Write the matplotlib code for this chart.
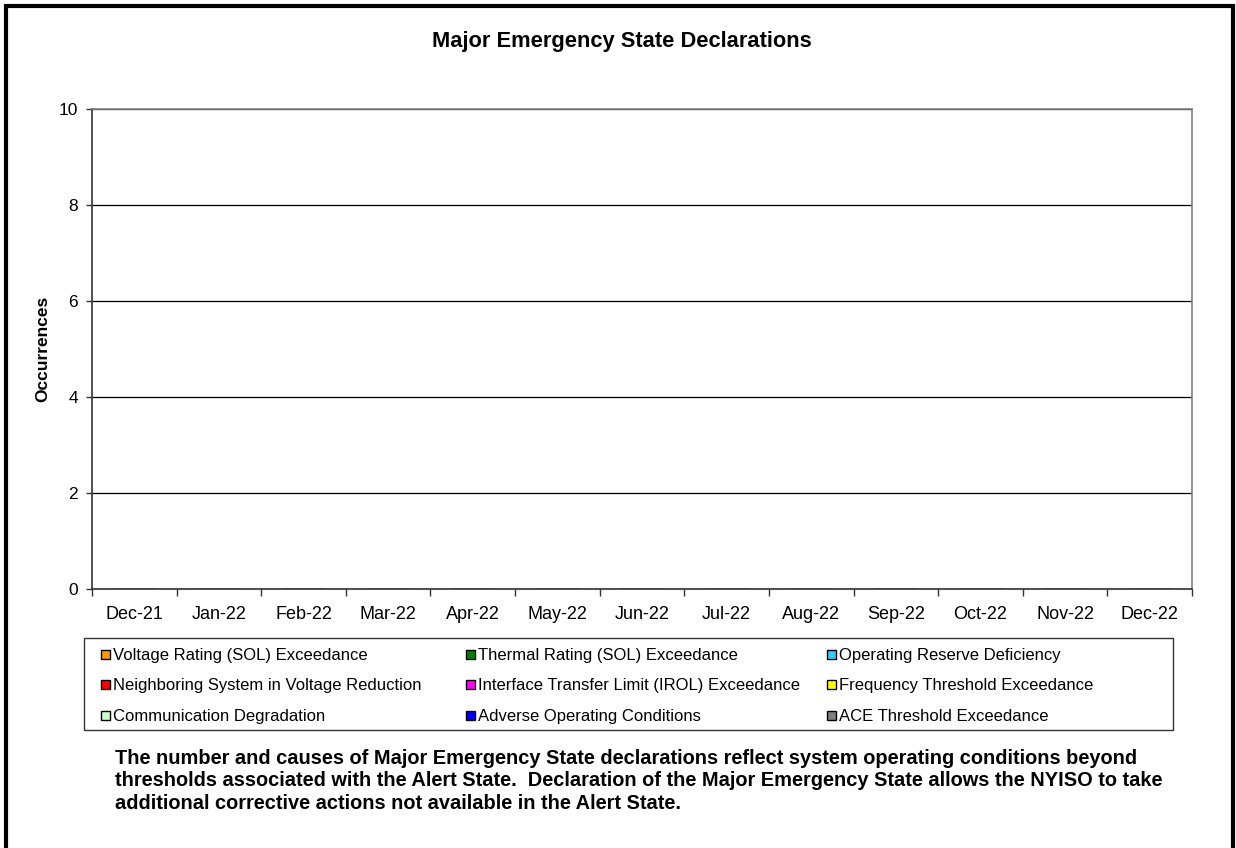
import numpy as np
import matplotlib.pyplot as plt
from matplotlib.patches import Rectangle

plt.rcParams['font.family'] = ['Liberation Sans', 'DejaVu Sans']

# ---------------------------
# data
# ---------------------------
months = ['Dec-21', 'Jan-22', 'Feb-22', 'Mar-22', 'Apr-22', 'May-22', 'Jun-22',
          'Jul-22', 'Aug-22', 'Sep-22', 'Oct-22', 'Nov-22', 'Dec-22']

causes = ['Voltage Rating (SOL) Exceedance',
          'Thermal Rating (SOL) Exceedance',
          'Operating Reserve Deficiency',
          'Neighboring System in Voltage Reduction',
          'Interface Transfer Limit (IROL) Exceedance',
          'Frequency Threshold Exceedance',
          'Communication Degradation',
          'Adverse Operating Conditions',
          'ACE Threshold Exceedance']

colors = ['#FF9900', '#008000', '#33CCFF', '#FF0000', '#FF00FF',
          '#FFFF00', '#CCFFCC', '#0000FF', '#808080']

# occurrences per month, one list per cause (no declarations in this period)
voltage_sol = [0, 0, 0, 0, 0, 0, 0, 0, 0, 0, 0, 0, 0]
thermal_sol = [0, 0, 0, 0, 0, 0, 0, 0, 0, 0, 0, 0, 0]
op_reserve = [0, 0, 0, 0, 0, 0, 0, 0, 0, 0, 0, 0, 0]
neighbor_vr = [0, 0, 0, 0, 0, 0, 0, 0, 0, 0, 0, 0, 0]
irol = [0, 0, 0, 0, 0, 0, 0, 0, 0, 0, 0, 0, 0]
frequency = [0, 0, 0, 0, 0, 0, 0, 0, 0, 0, 0, 0, 0]
comm_degr = [0, 0, 0, 0, 0, 0, 0, 0, 0, 0, 0, 0, 0]
adverse = [0, 0, 0, 0, 0, 0, 0, 0, 0, 0, 0, 0, 0]
ace = [0, 0, 0, 0, 0, 0, 0, 0, 0, 0, 0, 0, 0]

series = [voltage_sol, thermal_sol, op_reserve, neighbor_vr, irol,
          frequency, comm_degr, adverse, ace]

note = ("The number and causes of Major Emergency State declarations reflect system operating conditions beyond\n"
        "thresholds associated with the Alert State.  Declaration of the Major Emergency State allows the NYISO to take\n"
        "additional corrective actions not available in the Alert State.")

# ---------------------------
# figure
# ---------------------------
W, H = 1236, 848
fig = plt.figure(figsize=(W/100, H/100), dpi=100)
ax = fig.add_axes([92/W, 1 - 589/H, (1192-92)/W, (589-109)/H])

x = np.arange(len(months))
bottom = np.zeros(len(months))
for vals, c, name in zip(series, colors, causes):
    ax.bar(x, vals, 0.5, bottom=bottom, color=c, edgecolor='black', linewidth=0.8, label=name)
    bottom += np.array(vals)

ax.set_xlim(-0.5, len(months) - 0.5)
ax.set_ylim(0, 10)
ax.set_yticks(np.arange(0, 11, 2))
ax.set_xticks(x)
ax.set_xticklabels(months)
ax.set_xticks(np.arange(-0.5, len(months)), minor=True)
ax.tick_params(axis='x', which='major', length=0, labelsize=13, pad=12)
ax.tick_params(axis='x', which='minor', length=5, width=1, color='#333333')
ax.tick_params(axis='y', length=4, width=1, color='#333333', labelsize=12.5, pad=6)
ax.yaxis.grid(True, color='black', linewidth=0.9)
ax.set_axisbelow(True)
for s in ['left', 'bottom']:
    ax.spines[s].set_color('#333333')
    ax.spines[s].set_linewidth(1.2)
for s in ['top', 'right']:
    ax.spines[s].set_color('#808080')
    ax.spines[s].set_linewidth(1.2)
ax.set_ylabel('Occurrences', fontsize=12.5, fontweight='bold', labelpad=6)

fig.text(622/W, 1 - 42/H, 'Major Emergency State Declarations', ha='center', va='center',
         fontsize=15.75, fontweight='bold')

# legend box drawn by hand: three equal columns, filled row by row
fig.patches.append(Rectangle((84/W, 1 - 730/H), (1173-84)/W, (730-638)/H,
                             transform=fig.transFigure, fill=False,
                             edgecolor='#333333', linewidth=1.0))
col_x = [101, 466, 827]
row_y = [654, 684, 715]
for i, (name, c) in enumerate(zip(causes, colors)):
    cx = col_x[i % 3]
    cy = row_y[i // 3]
    fig.patches.append(Rectangle((cx/W, 1 - (cy+4.5)/H), 9/W, 9/H,
                                 transform=fig.transFigure, facecolor=c,
                                 edgecolor='black', linewidth=1.0))
    fig.text((cx + 12)/W, 1 - cy/H, name, ha='left', va='center_baseline', fontsize=12)

fig.text(115/W, 1 - 781/H, note, ha='left', va='center', fontsize=14.4,
         fontweight='bold', linespacing=1.24)

# outer chart border
fig.patches.append(Rectangle((6/W, -0.02), (1233-6)/W, 1.02 - 6/H, transform=fig.transFigure,
                             fill=False, edgecolor='black', linewidth=3, clip_on=False))

fig.savefig('out.png', dpi=100)
